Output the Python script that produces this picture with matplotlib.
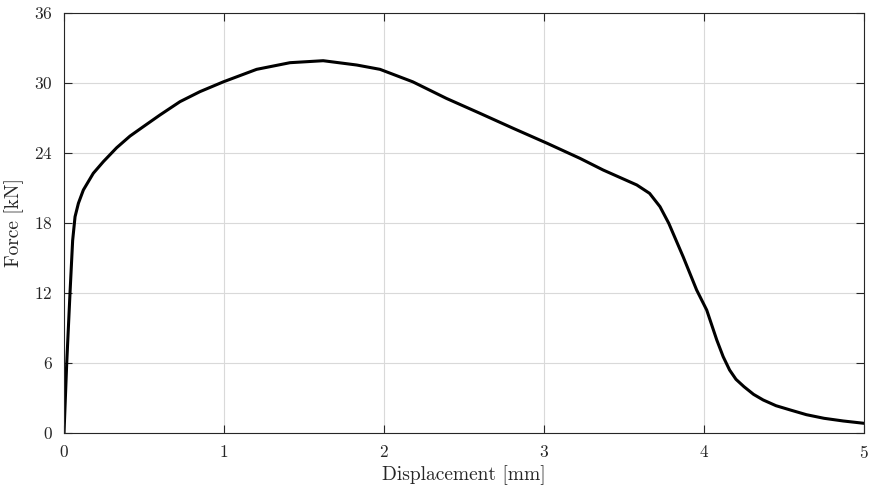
import numpy as np
import matplotlib.pyplot as plt

plt.rcParams['font.family'] = 'serif'
plt.rcParams['font.serif'] = ['cmr10']
plt.rcParams['mathtext.fontset'] = 'cm'
plt.rcParams['axes.formatter.use_mathtext'] = True

# force-displacement curve
displacement = [0.0, 0.017, 0.0375, 0.054, 0.069, 0.090, 0.121, 0.183, 0.246,
                0.329, 0.4125, 0.496, 0.60, 0.725, 0.85, 0.996, 1.204, 1.4125,
                1.62, 1.83, 1.975, 2.18, 2.39, 2.60, 2.81, 3.02, 3.225, 3.37,
                3.58, 3.66, 3.725, 3.78, 3.87, 3.954, 4.017, 4.08, 4.12, 4.16,
                4.20, 4.25, 4.31, 4.37, 4.45, 4.54, 4.64, 4.75, 4.87, 5.0]
force = [0.0, 6.0, 12.0, 16.5, 18.54, 19.69, 20.83, 22.26, 23.26,
         24.45, 25.45, 26.26, 27.26, 28.4, 29.26, 30.1, 31.17, 31.74,
         31.91, 31.54, 31.17, 30.1, 28.68, 27.4, 26.1, 24.83, 23.54, 22.54,
         21.26, 20.54, 19.4, 17.97, 15.1, 12.26, 10.54, 7.97, 6.54, 5.4,
         4.6, 3.97, 3.31, 2.83, 2.34, 1.97, 1.57, 1.26, 1.03, 0.83]
xticks = [0, 1, 2, 3, 4, 5]
yticks = [0, 6, 12, 18, 24, 30, 36]

fig = plt.figure(figsize=(8.72, 4.94), dpi=100)
ax = fig.add_axes([0.0734, 0.1235, 0.9174, 0.8502])

ax.plot(displacement, force, color='black', linewidth=2.2,
        solid_joinstyle='round', solid_capstyle='round')

ax.set_xlim(0, 5)
ax.set_ylim(0, 36)
ax.set_xticks(xticks)
ax.set_yticks(yticks)
ax.grid(True, color='#d9d9d9', linewidth=0.8)
ax.set_axisbelow(True)
ax.tick_params(direction='in', length=6, width=0.8, top=True, right=True,
               labelsize=12.5, colors='#262626', pad=8)
for s in ax.spines.values():
    s.set_color('#262626')
    s.set_linewidth(0.8)

ax.set_xlabel('Displacement [mm]', fontsize=14, color='#262626', labelpad=3)
ax.set_ylabel('Force [kN]', fontsize=14, color='#262626', labelpad=7)

fig.savefig('out.png', dpi=100)
